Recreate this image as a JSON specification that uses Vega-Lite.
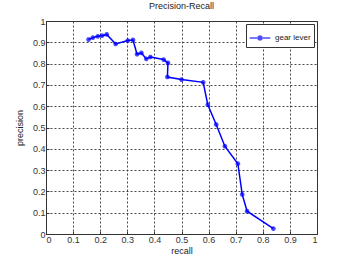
{
  "$schema": "https://vega.github.io/schema/vega-lite/v6.json",
  "width": 271,
  "height": 213,
  "autosize": {"type": "none"},
  "padding": {"left": 46, "top": 21, "right": 33, "bottom": 29},
  "background": "white",
  "title": {"text": "Precision-Recall", "font": "Liberation Sans", "fontSize": 9, "fontWeight": "normal", "color": "#222", "offset": 6},
  "config": {
    "view": {"stroke": "#333", "strokeWidth": 1},
    "axis": {
      "labelFont": "Liberation Sans", "labelFontSize": 9, "labelColor": "#333",
      "titleFont": "Liberation Sans", "titleFontSize": 9, "titleFontWeight": "normal", "titleColor": "#222",
      "gridColor": "#333", "gridDash": [2, 2], "gridOpacity": 0.9, "gridWidth": 1,
      "domainColor": "#333", "tickColor": "#333", "tickSize": -3
    }
  },
  "data": {"values": [
    {"i": 1, "recall": 0.157, "precision": 0.913, "series": "gear lever"},
    {"i": 2, "recall": 0.173, "precision": 0.922, "series": "gear lever"},
    {"i": 3, "recall": 0.191, "precision": 0.928, "series": "gear lever"},
    {"i": 4, "recall": 0.207, "precision": 0.931, "series": "gear lever"},
    {"i": 5, "recall": 0.224, "precision": 0.937, "series": "gear lever"},
    {"i": 6, "recall": 0.257, "precision": 0.892, "series": "gear lever"},
    {"i": 7, "recall": 0.302, "precision": 0.908, "series": "gear lever"},
    {"i": 8, "recall": 0.321, "precision": 0.911, "series": "gear lever"},
    {"i": 9, "recall": 0.336, "precision": 0.844, "series": "gear lever"},
    {"i": 10, "recall": 0.352, "precision": 0.850, "series": "gear lever"},
    {"i": 11, "recall": 0.370, "precision": 0.822, "series": "gear lever"},
    {"i": 12, "recall": 0.385, "precision": 0.831, "series": "gear lever"},
    {"i": 13, "recall": 0.434, "precision": 0.819, "series": "gear lever"},
    {"i": 14, "recall": 0.450, "precision": 0.803, "series": "gear lever"},
    {"i": 15, "recall": 0.448, "precision": 0.737, "series": "gear lever"},
    {"i": 16, "recall": 0.500, "precision": 0.725, "series": "gear lever"},
    {"i": 17, "recall": 0.580, "precision": 0.712, "series": "gear lever"},
    {"i": 18, "recall": 0.597, "precision": 0.607, "series": "gear lever"},
    {"i": 19, "recall": 0.628, "precision": 0.514, "series": "gear lever"},
    {"i": 20, "recall": 0.660, "precision": 0.412, "series": "gear lever"},
    {"i": 21, "recall": 0.708, "precision": 0.330, "series": "gear lever"},
    {"i": 22, "recall": 0.724, "precision": 0.186, "series": "gear lever"},
    {"i": 23, "recall": 0.742, "precision": 0.107, "series": "gear lever"},
    {"i": 24, "recall": 0.839, "precision": 0.025, "series": "gear lever"}
  ]},
  "encoding": {
    "x": {"field": "recall", "type": "quantitative", "scale": {"domain": [0, 1], "nice": false},
          "axis": {"title": "recall", "values": [0,0.1,0.2,0.3,0.4,0.5,0.6,0.7,0.8,0.9,1], "format": "~g", "titlePadding": 2, "labelPadding": 4}},
    "y": {"field": "precision", "type": "quantitative", "scale": {"domain": [0, 1], "nice": false},
          "axis": {"title": "precision", "values": [0,0.1,0.2,0.3,0.4,0.5,0.6,0.7,0.8,0.9,1], "format": "~g", "titlePadding": 8, "labelPadding": 4}},
    "order": {"field": "i", "type": "quantitative"},
    "color": {"field": "series", "type": "nominal", "scale": {"range": ["#0000ff"]},
              "legend": {"title": null, "orient": "top-right", "offset": 3, "strokeColor": "#333", "fillColor": "white",
                         "padding": 3, "labelFont": "Liberation Sans", "labelFontSize": 8, "labelColor": "#222",
                         "symbolType": "M-1,0L1,0M-0.2,-0.2L0.2,0.2M-0.2,0.2L0.2,-0.2M0,-0.28L0,0.28",
                         "symbolSize": 420, "symbolStrokeWidth": 1.5, "symbolFillColor": "transparent"}}
  },
  "layer": [
    {"mark": {"type": "line", "strokeWidth": 1.5}},
    {"mark": {"type": "point", "filled": false, "strokeWidth": 1.5, "size": 22,
              "shape": "M-1,0L1,0M0,-1L0,1M-0.7,-0.7L0.7,0.7M-0.7,0.7L0.7,-0.7"}}
  ]
}
